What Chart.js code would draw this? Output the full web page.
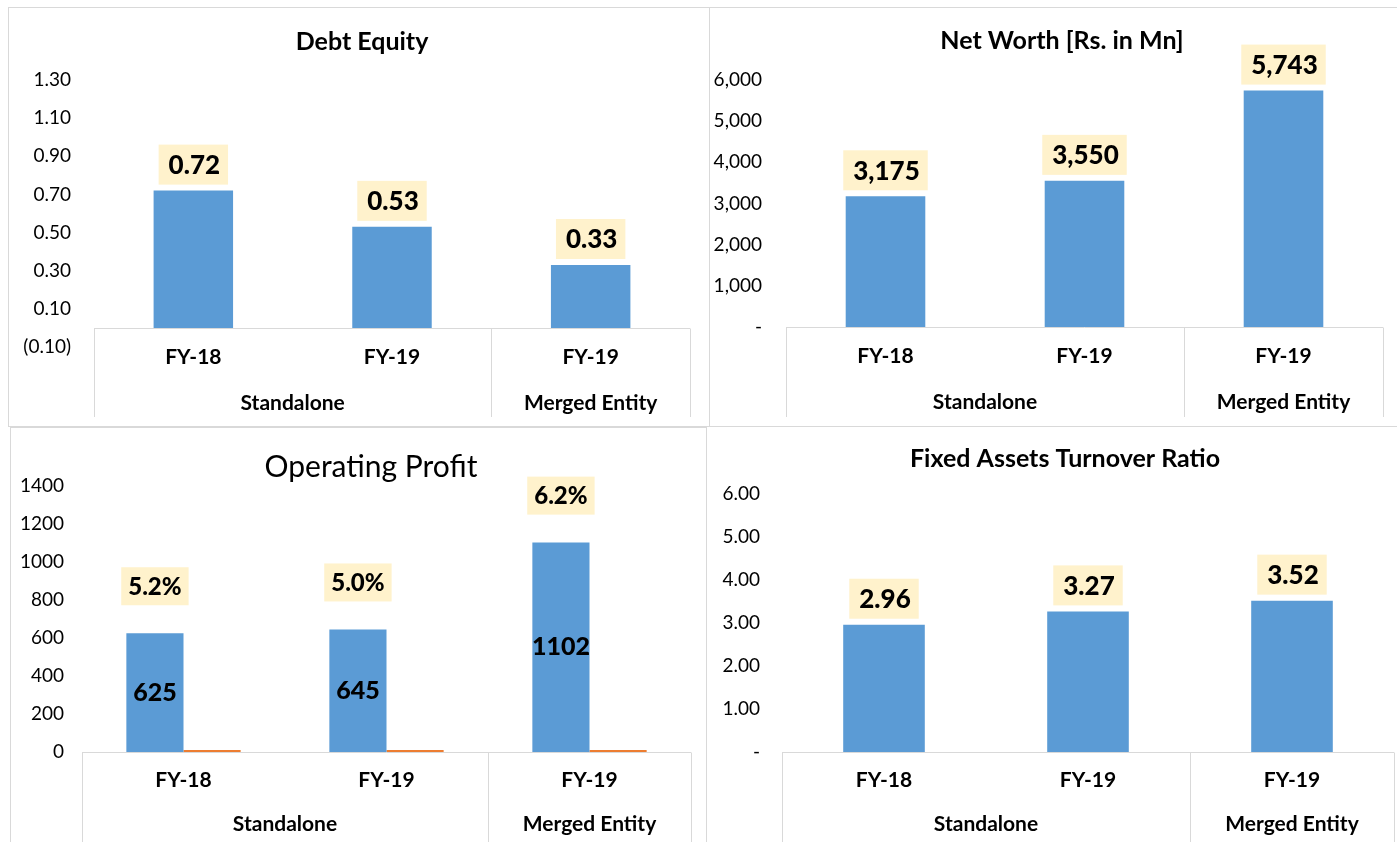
<!DOCTYPE html>
<html>
<head>
<meta charset="utf-8">
<script src="https://cdn.jsdelivr.net/npm/chart.js@4.4.1/dist/chart.umd.min.js"></script>
<style>
html,body{margin:0;padding:0;background:#fff;overflow:hidden;width:1397px;height:842px;}
.panel{position:absolute;border:1px solid #d9d9d9;background:#fff;overflow:hidden;}
.panel canvas{display:block;}
</style>
</head>
<body>
<div class="panel" style="left:8px;top:7px;width:700px;height:418px"><canvas id="c1" width="700" height="418"></canvas></div>
<div class="panel" style="left:709px;top:7px;width:700px;height:418px"><canvas id="c2" width="700" height="418"></canvas></div>
<div class="panel" style="left:10px;top:427px;width:697px;height:420px"><canvas id="c3" width="697" height="420"></canvas></div>
<div class="panel" style="left:706px;top:426px;width:700px;height:420px"><canvas id="c4" width="700" height="420"></canvas></div>
<script>
// ---------------- data ----------------
const categories = ['FY-18', 'FY-19', 'FY-19'];
const groupLabels = ['Standalone', 'Merged Entity'];
const groupSpans = [2, 1];

const debtEquity = [0.72, 0.53, 0.33];
const netWorth = [3175, 3550, 5743];
const operatingProfit = [625, 645, 1102];
const operatingMargin = [5.2, 5.0, 6.2];
const fixedAssetsTurnover = [2.96, 3.27, 3.52];

const debtEquityTicks = [-0.1, 0.1, 0.3, 0.5, 0.7, 0.9, 1.1, 1.3];
const netWorthTicks = [0, 1000, 2000, 3000, 4000, 5000, 6000];
const operatingProfitTicks = [0, 200, 400, 600, 800, 1000, 1200, 1400];
const fixedAssetsTicks = [0, 1, 2, 3, 4, 5, 6];

// ---------------- styling ----------------
const FONT = 'Lato, "Open Sans", "DejaVu Sans", sans-serif';
const BLUE = '#5B9BD5';
const ORANGE = '#ED7D31';
const LABEL_BG = '#FFF2CC';
const LINE = '#D9D9D9';

const fmtComma = v => Math.abs(v) < 1e-9 ? '-' : Math.round(v).toLocaleString('en-US');
const fmtDec2 = v => Math.abs(v) < 1e-9 ? '-' : v.toFixed(2);
const fmtParen = v => v < 0 ? '(' + Math.abs(v).toFixed(2) + ')' : v.toFixed(2);

const decor = {
  id: 'decor',
  afterDatasetsDraw(chart, args, o) {
    const ctx = chart.ctx;
    const xs = chart.scales.x, ys = chart.scales.y;
    const n = categories.length;
    const step = xs.getPixelForValue(1) - xs.getPixelForValue(0);
    const left = xs.getPixelForValue(0) - step / 2;
    const right = xs.getPixelForValue(n - 1) + step / 2;
    const y0 = Math.round(ys.getPixelForValue(0)) + 0.5;
    const yEnd = o.lineEnd;
    ctx.save();
    // category box
    ctx.strokeStyle = LINE;
    ctx.lineWidth = 1;
    ctx.beginPath();
    ctx.moveTo(left, y0); ctx.lineTo(right, y0);
    const bounds = [left];
    let acc = 0;
    groupSpans.forEach(s => { acc += s; bounds.push(xs.getPixelForValue(acc - 1) + step / 2); });
    bounds.forEach(bx => { const px = Math.round(bx) + 0.5; ctx.moveTo(px, y0); ctx.lineTo(px, yEnd); });
    ctx.stroke();
    // category labels
    ctx.fillStyle = '#000';
    ctx.textAlign = 'center';
    ctx.textBaseline = 'middle';
    ctx.font = 'bold 21px ' + FONT;
    categories.forEach((c, i) => ctx.fillText(c, xs.getPixelForValue(i), y0 + o.catDy));
    groupLabels.forEach((g, gi) => {
      const gl = bounds[gi], gr = bounds[gi + 1];
      ctx.fillText(g, (gl + gr) / 2, y0 + o.groupDy);
    });
    // title
    ctx.font = o.titleFont;
    ctx.fillText(o.title, o.titleX, o.titleY);
    // value labels
    const meta = chart.getDatasetMeta(0);
    const vals = chart.data.datasets[0].data;
    meta.data.forEach((el, i) => {
      const txt = o.fmt(vals[i]);
      if (o.inside) {
        ctx.font = '900 25px ' + FONT;
        ctx.fillStyle = '#000';
        ctx.fillText(txt, el.x, (el.y + el.base) / 2);
      } else {
        ctx.font = '900 26px ' + FONT;
        const w = ctx.measureText(txt).width + 18;
        const h = 40;
        const bottom = el.y - 6;
        ctx.fillStyle = LABEL_BG;
        ctx.fillRect(el.x - w / 2, bottom - h, w, h);
        ctx.fillStyle = '#000';
        ctx.fillText(txt, el.x + 1, bottom - h / 2 + 1);
      }
    });
    // extra percentage labels (operating margin)
    if (o.pct) {
      const pm = chart.data.datasets[1].data;
      meta.data.forEach((el, i) => {
        const txt = pm[i].toFixed(1) + '%';
        ctx.font = '900 24px ' + FONT;
        const w = ctx.measureText(txt).width + 14;
        const h = 38;
        const cy = el.y - 47;
        ctx.fillStyle = LABEL_BG;
        ctx.fillRect(el.x - w / 2, cy - h / 2, w, h);
        ctx.fillStyle = '#000';
        ctx.fillText(txt, el.x, cy + 1);
      });
    }
    ctx.restore();
  }
};

function build(id, datasets, yTicks, fmtTick, geom, decorOpts) {
  const canvas = document.getElementById(id);
  return new Chart(canvas, {
    type: 'bar',
    data: { labels: categories, datasets },
    options: {
      responsive: false,
      animation: false,
      devicePixelRatio: 1,
      layout: { padding: { left: 0, top: geom.top, right: geom.right, bottom: geom.bottom } },
      plugins: { legend: { display: false }, tooltip: { enabled: false }, title: { display: false }, decor: decorOpts },
      scales: {
        x: { display: false, offset: true, grid: { display: false } },
        y: {
          min: yTicks[0], max: yTicks[yTicks.length - 1],
          afterBuildTicks: s => { s.ticks = yTicks.map(v => ({ value: v })); },
          afterFit: s => { s.width = geom.left; },
          grid: { display: false, drawTicks: false },
          border: { display: false },
          ticks: { autoSkip: false, padding: geom.tickPad, color: '#000', font: { family: FONT, size: 19 }, callback: v => fmtTick(v) }
        }
      }
    },
    plugins: [decor]
  });
}

const barStyle = { backgroundColor: BLUE, borderWidth: 0, categoryPercentage: 1, barPercentage: 0.4 };

build('c1', [{ data: debtEquity, ...barStyle }], debtEquityTicks, fmtParen,
  { left: 85, top: 72, right: 19, bottom: 79, tickPad: 23 },
  { title: 'Debt Equity', titleFont: 'bold 25px ' + FONT, titleX: 353, titleY: 34, fmt: v => v.toFixed(2), catDy: 29, groupDy: 75, lineEnd: 409 });

build('c2', [{ data: netWorth, ...barStyle }], netWorthTicks, fmtComma,
  { left: 76, top: 72, right: 27, bottom: 99, tickPad: 24 },
  { title: 'Net Worth [Rs. in Mn]', titleFont: 'bold 25px ' + FONT, titleX: 352, titleY: 33, fmt: v => v.toLocaleString('en-US'), catDy: 29, groupDy: 75, lineEnd: 409 });

build('c3', [
    { data: operatingProfit, backgroundColor: BLUE, borderWidth: 0, categoryPercentage: 0.563, barPercentage: 1 },
    { data: operatingMargin, backgroundColor: ORANGE, borderWidth: 0, categoryPercentage: 0.563, barPercentage: 1, minBarLength: 2 }
  ], operatingProfitTicks, v => String(v),
  { left: 71, top: 58, right: 17, bottom: 96, tickPad: 18 },
  { title: 'Operating Profit', titleFont: '30px ' + FONT, titleX: 360, titleY: 39, fmt: v => String(v), inside: true, pct: true, catDy: 28, groupDy: 72, lineEnd: 430 });

build('c4', [{ data: fixedAssetsTurnover, ...barStyle }], fixedAssetsTicks, fmtDec2,
  { left: 75, top: 67, right: 13, bottom: 95, tickPad: 22 },
  { title: 'Fixed Assets Turnover Ratio', titleFont: 'bold 25px ' + FONT, titleX: 358, titleY: 32, fmt: v => v.toFixed(2), catDy: 28, groupDy: 72, lineEnd: 430 });
</script>
</body>
</html>
